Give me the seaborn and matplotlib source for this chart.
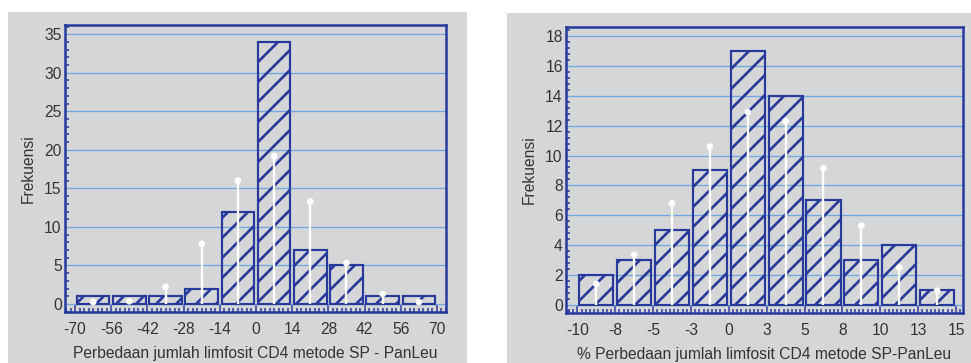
import numpy as np
import pandas as pd
import matplotlib
matplotlib.use("Agg")
import matplotlib.pyplot as plt
from matplotlib.patches import Rectangle
from matplotlib.ticker import MultipleLocator
import seaborn as sns

# Absolute difference in CD4 lymphocyte count (SP - PanLeu)
abs_edges = [-70, -56, -42, -28, -14, 0, 14, 28, 42, 56, 70]
abs_tick_labels = ["-70", "-56", "-42", "-28", "-14", "0", "14", "28", "42", "56", "70"]
abs_counts = [1, 1, 1, 2, 12, 34, 7, 5, 1, 1]
abs_normal = [0.25, 0.35, 2.2, 7.8, 16.0, 19.2, 13.3, 5.3, 1.3, 0.25]

# Percentage difference in CD4 lymphocyte count (SP - PanLeu)
pct_edges = [-10, -7.5, -5, -2.5, 0, 2.5, 5, 7.5, 10, 12.5, 15]
pct_tick_labels = ["-10", "-8", "-5", "-3", "0", "3", "5", "8", "10", "13", "15"]
pct_counts = [2, 3, 5, 9, 17, 14, 7, 3, 4, 1]
pct_normal = [1.4, 3.35, 6.8, 10.6, 12.9, 12.3, 9.15, 5.3, 2.5, 0.95]

ylabel = "Frekuensi"
abs_xlabel = "Perbedaan jumlah limfosit CD4 metode SP - PanLeu"
pct_xlabel = "% Perbedaan jumlah limfosit CD4 metode SP-PanLeu"

PANEL = "#d5d6d7"
NAVY = "#27399b"
GRID = "#6fa9de"
TEXT = "#333333"
FS = 9.4

sns.set_theme(style="white")
plt.rcParams["font.family"] = ["Liberation Sans", "DejaVu Sans"]
plt.rcParams["hatch.linewidth"] = 1.6

DPI = 120
fig = plt.figure(figsize=(971 / DPI, 363 / DPI), dpi=DPI, facecolor="white")

# grey backing panels
fig.patches.append(Rectangle((8 / 971, 0), 459 / 971, 351 / 363, transform=fig.transFigure,
                             facecolor=PANEL, edgecolor="none", zorder=-5))
fig.patches.append(Rectangle((507 / 971, 0), 464 / 971, 350 / 363, transform=fig.transFigure,
                             facecolor=PANEL, edgecolor="none", zorder=-5))

ax1 = fig.add_axes([65 / 971, 51 / 363, 381 / 971, 287 / 363])
ax2 = fig.add_axes([566 / 971, 50 / 363, 397 / 971, 286 / 363])


def draw_panel(ax, edges, counts, normal, tick_labels, xlabel, xlim, ylim,
               ymajor, yminor, xminor):
    centers = [(a + b) / 2 for a, b in zip(edges[:-1], edges[1:])]
    df = pd.DataFrame({"x": centers, "n": counts})
    ax.set_facecolor(PANEL)

    sns.histplot(data=df, x="x", weights="n", bins=list(edges), shrink=0.9,
                 fill=False, color=NAVY, ax=ax)
    for p in ax.patches:
        p.set_hatch("//")
        p.set_edgecolor(NAVY)
        p.set_facecolor("none")
        p.set_linewidth(1.3)
        p.set_zorder(3)

    # fitted normal frequencies as white stems
    ax.vlines(centers, 0, normal, colors="white", linewidth=1.4, zorder=4)
    sns.scatterplot(x=centers, y=normal, color="white", s=16, edgecolor="none",
                    ax=ax, zorder=5, legend=False)

    ax.set_xlim(*xlim)
    ax.set_ylim(*ylim)
    ax.set_xticks(edges)
    ax.set_xticklabels(tick_labels)
    ax.yaxis.set_major_locator(MultipleLocator(ymajor))
    ax.yaxis.set_minor_locator(MultipleLocator(yminor))
    ax.xaxis.set_minor_locator(MultipleLocator(xminor))

    ax.grid(axis="y", which="major", color=GRID, linewidth=0.8, zorder=1)
    ax.set_axisbelow(True)
    for s in ax.spines.values():
        s.set_visible(True)
        s.set_color(NAVY)
        s.set_linewidth(1.5)

    ax.tick_params(axis="both", which="both", direction="in", colors=NAVY,
                   labelcolor=TEXT, labelsize=FS, width=0.9)
    ax.tick_params(axis="y", which="major", length=3, pad=2)
    ax.tick_params(axis="y", which="minor", length=2.2, left=True)
    ax.tick_params(axis="x", which="major", length=4, pad=6, bottom=True)
    ax.tick_params(axis="x", which="minor", length=2.5, bottom=True)

    ax.set_ylabel(ylabel, fontsize=FS, color=TEXT)
    ax.yaxis.label.set_va("center")
    ax.set_xlabel(xlabel, fontsize=FS, color=TEXT)
    ax.xaxis.label.set_va("center")
    ax.xaxis.set_label_coords(0.5, -0.146)


draw_panel(ax1, abs_edges, abs_counts, abs_normal, abs_tick_labels, abs_xlabel,
           xlim=(-73.9, 73.5), ylim=(-1.04, 36.2), ymajor=5, yminor=1, xminor=1.75)
ax1.yaxis.set_label_coords(-0.097, 0.5)

draw_panel(ax2, pct_edges, pct_counts, pct_normal, pct_tick_labels, pct_xlabel,
           xlim=(-10.75, 15.46), ylim=(-0.54, 18.6), ymajor=2, yminor=0.4, xminor=2.5 / 9)
ax2.yaxis.set_label_coords(-0.093, 0.5)

fig.savefig("out.png", dpi=DPI, facecolor="white")
